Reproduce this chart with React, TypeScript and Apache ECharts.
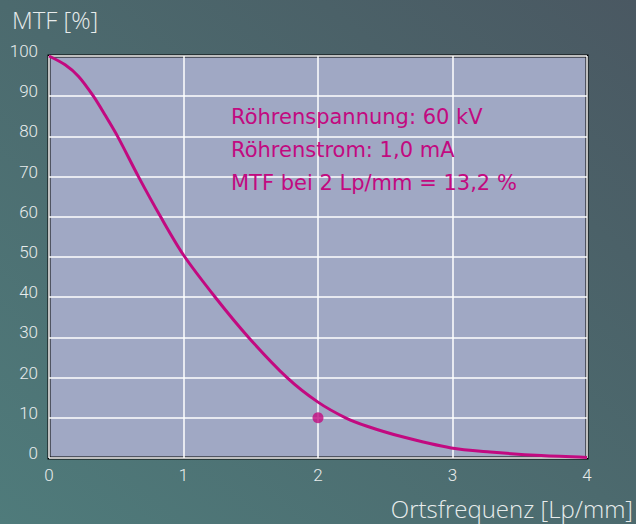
import React, { useEffect, useRef } from "react";
import * as echarts from "echarts";

const frequencies = [0, 0.12, 0.22, 0.33, 0.417, 0.51, 0.665, 0.83, 1.0, 1.236, 1.484, 1.77, 2.0, 2.205, 2.365, 2.613, 2.99, 3.28, 3.66, 4.0];
const mtfValues = [100, 97.8, 94.9, 90, 85.3, 80, 70, 60, 50.5, 40, 30, 20, 13.9, 10, 7.9, 5.4, 2.5, 1.5, 0.6, 0.15];
const measuredPoint = [[2, 10]];
const annotationLines = ["Röhrenspannung: 60 kV", "Röhrenstrom: 1,0 mA", "MTF bei 2 Lp/mm = 13,2 %"];
const yTitle = "MTF [%]";
const xTitle = "Ortsfrequenz [Lp/mm]";

const MAGENTA = "#c20a80";
const LABEL = "#e8ecec";

export default function App() {
  const ref = useRef<HTMLDivElement>(null);
  useEffect(() => {
    if (!ref.current) return;
    const chart = echarts.init(ref.current, null, { renderer: "svg" });
    const data = frequencies.map((f, i) => [f, mtfValues[i]]);
    chart.setOption({
      animation: false,
      backgroundColor: new echarts.graphic.LinearGradient(0, 1, 1, 0, [
        { offset: 0, color: "#4f7b7b" },
        { offset: 0.5, color: "#4c6a6e" },
        { offset: 1, color: "#4a5862" },
      ]),
      grid: {
        left: 49,
        right: 49,
        top: 56,
        bottom: 66,
        show: true,
        backgroundColor: "#a0a8c4",
        borderColor: "#000",
        borderWidth: 3,
        z: 0,
      },
      xAxis: {
        type: "value",
        min: 0,
        max: 4,
        interval: 1,
        axisLine: { show: false },
        axisTick: { show: false },
        splitLine: { show: true, lineStyle: { color: "#ffffff", width: 1.5 } },
        axisLabel: {
          color: LABEL,
          fontFamily: "Roboto",
          fontWeight: 300,
          fontSize: 17,
          margin: 8,
        },
      },
      yAxis: {
        type: "value",
        min: 0,
        max: 100,
        interval: 10,
        axisLine: { show: false },
        axisTick: { show: false },
        splitLine: { show: true, lineStyle: { color: "#ffffff", width: 1.5 } },
        axisLabel: {
          color: LABEL,
          fontFamily: "Roboto",
          fontWeight: 300,
          fontSize: 17,
          margin: 11,
          verticalAlign: "bottom",
          lineHeight: 10,
        },
      },
      series: [
        {
          type: "line",
          data,
          smooth: 0.3,
          symbol: "none",
          lineStyle: { color: MAGENTA, width: 3 },
          z: 3,
        },
        {
          type: "scatter",
          data: measuredPoint,
          symbolSize: 11,
          itemStyle: { color: MAGENTA },
          z: 4,
        },
      ],
      graphic: [
        {
          type: "text",
          left: 12,
          top: 7,
          style: {
            text: yTitle,
            fill: LABEL,
            font: "300 24px 'Open Sans'",
          },
        },
        {
          type: "text",
          right: 3,
          top: 496,
          style: {
            text: xTitle,
            fill: LABEL,
            font: "300 24px 'Open Sans'",
          },
        },
        ...annotationLines.map((t, i) => ({
          type: "text",
          left: 231,
          top: 106 + i * 33,
          z: 10,
          style: {
            text: t,
            fill: MAGENTA,
            font: "21px 'DejaVu Sans'",
          },
        })),
      ],
    });
    return () => chart.dispose();
  }, []);
  return (
    <div
      ref={ref}
      style={{ position: "fixed", left: 0, top: 0, width: 636, height: 524 }}
    />
  );
}
